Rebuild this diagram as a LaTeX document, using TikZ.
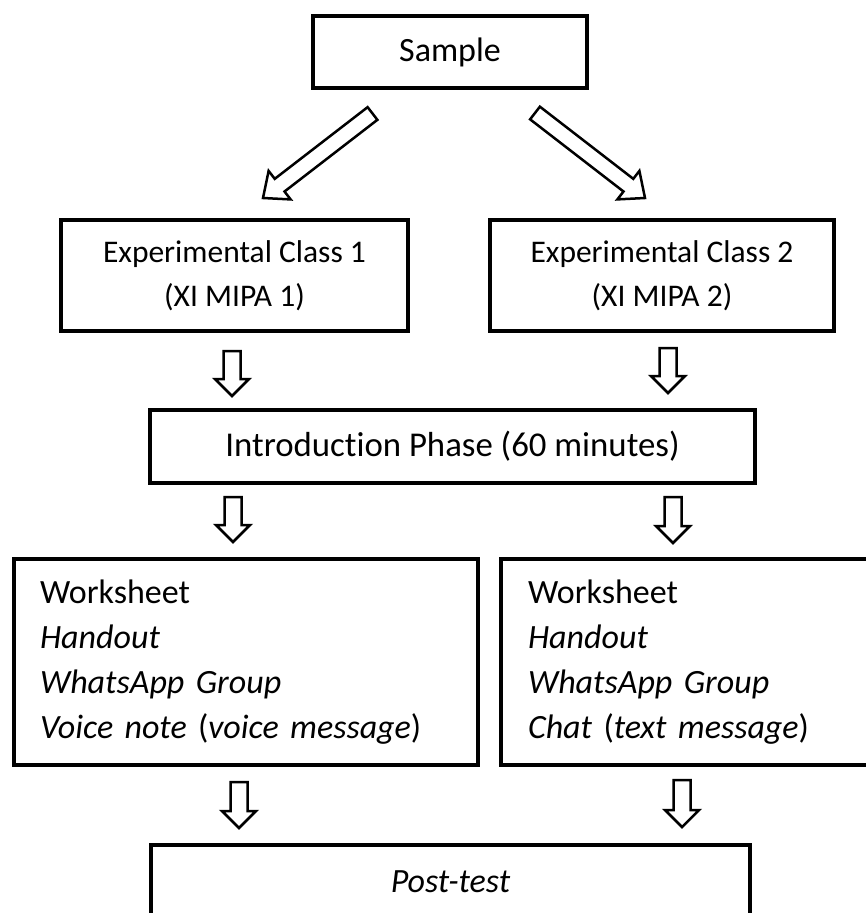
\documentclass[tikz,border=0pt]{standalone}
\usepackage{fontspec}
\setmainfont{Carlito}[Ligatures=NoCommon]
\usetikzlibrary{calc}
\newcommand\fbig{\fontsize{34}{45}\selectfont}
\newcommand\fintro{\fontsize{34.8}{45}\selectfont}
\newcommand\fmid{\fontsize{31.5}{44}\selectfont}
\tikzset{
  box/.style={draw, line width=4pt, inner sep=0pt, align=center},
  blk/.style={draw, line width=2.5pt, fill=white, line join=miter},
}
% #1 start, #2 tip, #3 shaft half width, #4 head half width, #5 head length
\newcommand\blockarrow[5]{%
  \path ($(#2)!#5!(#1)$) coordinate (bantmp);
  \draw[blk] ($(#1)!#3!90:(#2)$) -- ($(bantmp)!#3!90:(#2)$) -- ($(bantmp)!#4!90:(#2)$)
    -- (#2) -- ($(bantmp)!#4!-90:(#2)$) -- ($(bantmp)!#3!-90:(#2)$)
    -- ($(#1)!#3!-90:(#2)$) -- cycle;
}
\begin{document}
\begin{tikzpicture}[x=1pt,y=-1pt]
\useasboundingbox (0,0) rectangle (866,913);
\clip (0,0) rectangle (866,913);

\node[box, minimum width=274pt, minimum height=72pt, font=\fbig] (sample) at (450,52) {Sample};
\node[box, minimum width=347pt, minimum height=111pt, font=\fmid] (ec1) at (234.5,275.5) {Experimental Class 1\\(XI MIPA 1)};
\node[box, minimum width=344pt, minimum height=111pt, font=\fmid] (ec2) at (662,275.5) {Experimental Class 2\\(XI MIPA 2)};
\node[box, minimum width=605pt, minimum height=73pt, font=\fintro] (intro) at (452.5,446.5) {Introduction Phase (60 minutes)};
\node[box, align=left, inner xsep=26pt, text width=412pt, minimum height=206pt, font=\fbig] (ws1) at (246,662)
  {Worksheet\\\textit{Handout}\\\textit{WhatsApp Group}\\\textit{Voice note} (\textit{voice message})};
\node[box, align=left, inner xsep=27pt, text width=335pt, minimum height=206pt, font=\fbig] (ws2) at (695.5,662)
  {Worksheet\\\textit{Handout}\\\textit{WhatsApp Group}\\\textit{Chat} (\textit{text message})};
\node[box, minimum width=599pt, minimum height=74pt, font=\fbig] (post) at (450.5,882) {\textit{Post-test}};

\coordinate (d1s) at (372.5,113.5); \coordinate (d1e) at (263,198);
\coordinate (d2s) at (535,113); \coordinate (d2e) at (645,198);
\coordinate (a1s) at (232,351); \coordinate (a1e) at (232,396);
\coordinate (a2s) at (668,348); \coordinate (a2e) at (668,393);
\coordinate (a3s) at (233,497); \coordinate (a3e) at (233,542);
\coordinate (a4s) at (673,497); \coordinate (a4e) at (673,543);
\coordinate (a5s) at (239,782); \coordinate (a5e) at (239,828);
\coordinate (a6s) at (682,780); \coordinate (a6e) at (682,827);

\blockarrow{d1s}{d1e}{8pt}{18pt}{21pt}
\blockarrow{d2s}{d2e}{8pt}{18pt}{21pt}
\blockarrow{a1s}{a1e}{8.5pt}{17pt}{17pt}
\blockarrow{a2s}{a2e}{8.5pt}{17pt}{17pt}
\blockarrow{a3s}{a3e}{8.5pt}{17pt}{17pt}
\blockarrow{a4s}{a4e}{8.5pt}{17pt}{17pt}
\blockarrow{a5s}{a5e}{8.5pt}{17pt}{17pt}
\blockarrow{a6s}{a6e}{8.5pt}{17pt}{17pt}
\end{tikzpicture}
\end{document}
